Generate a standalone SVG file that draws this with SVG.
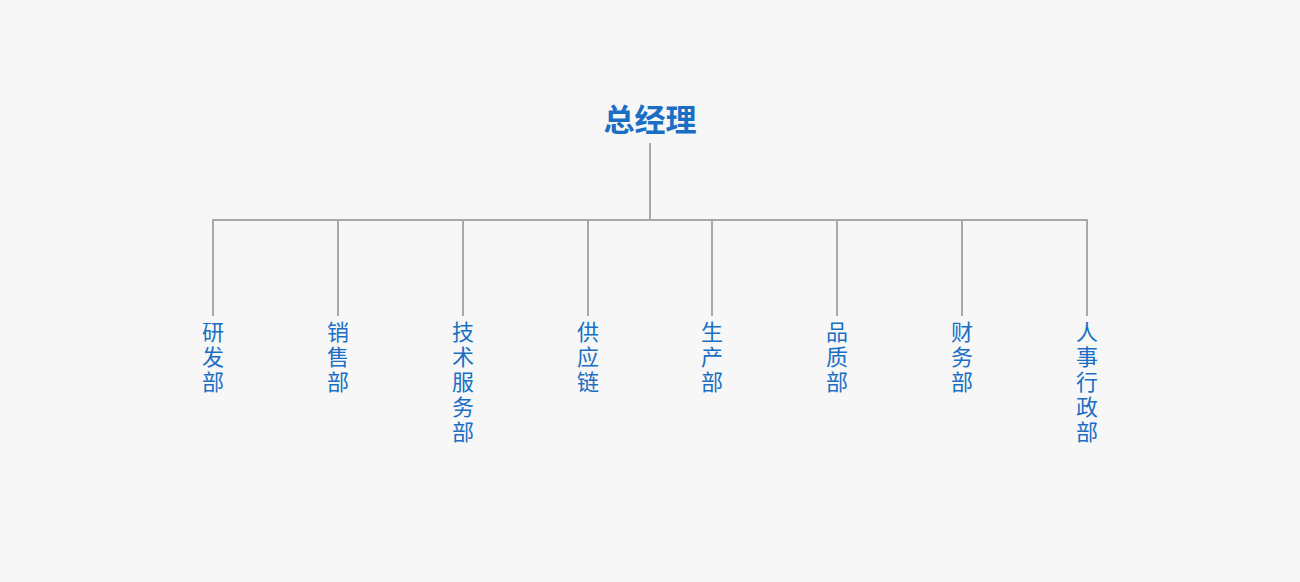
<svg xmlns="http://www.w3.org/2000/svg" width="1300" height="582" viewBox="0 0 1300 582">
<style>
.t{font-family:"Noto Sans CJK SC",sans-serif;fill:#1a6fc4;text-anchor:middle}
.d{font-size:22px}
.h{font-size:31px;font-weight:bold}
.c line{stroke:#a9a9a9;stroke-width:2}
</style>
<rect width="1300" height="582" fill="#f7f7f7"/>
<g class="c" id="connectors">
<line x1="650" y1="143" x2="650" y2="220"/>
<line x1="212" y1="220" x2="1088" y2="220"/>
<line x1="213" y1="219" x2="213" y2="316"/>
<line x1="338" y1="219" x2="338" y2="316"/>
<line x1="463" y1="219" x2="463" y2="316"/>
<line x1="588" y1="219" x2="588" y2="316"/>
<line x1="712" y1="219" x2="712" y2="316"/>
<line x1="837" y1="219" x2="837" y2="316"/>
<line x1="962" y1="219" x2="962" y2="316"/>
<line x1="1087" y1="219" x2="1087" y2="316"/>
</g>
<g id="n0"><text class="t h" x="650" y="131">总经理</text></g>
<g id="n1" class="t d"><text x="213" y="340">研</text><text x="213" y="365">发</text><text x="213" y="390">部</text></g>
<g id="n2" class="t d"><text x="338" y="340">销</text><text x="338" y="365">售</text><text x="338" y="390">部</text></g>
<g id="n3" class="t d"><text x="463" y="340">技</text><text x="463" y="365">术</text><text x="463" y="390">服</text><text x="463" y="415">务</text><text x="463" y="440">部</text></g>
<g id="n4" class="t d"><text x="588" y="340">供</text><text x="588" y="365">应</text><text x="588" y="390">链</text></g>
<g id="n5" class="t d"><text x="712" y="340">生</text><text x="712" y="365">产</text><text x="712" y="390">部</text></g>
<g id="n6" class="t d"><text x="837" y="340">品</text><text x="837" y="365">质</text><text x="837" y="390">部</text></g>
<g id="n7" class="t d"><text x="962" y="340">财</text><text x="962" y="365">务</text><text x="962" y="390">部</text></g>
<g id="n8" class="t d"><text x="1087" y="340">人</text><text x="1087" y="365">事</text><text x="1087" y="390">行</text><text x="1087" y="415">政</text><text x="1087" y="440">部</text></g>
</svg>
